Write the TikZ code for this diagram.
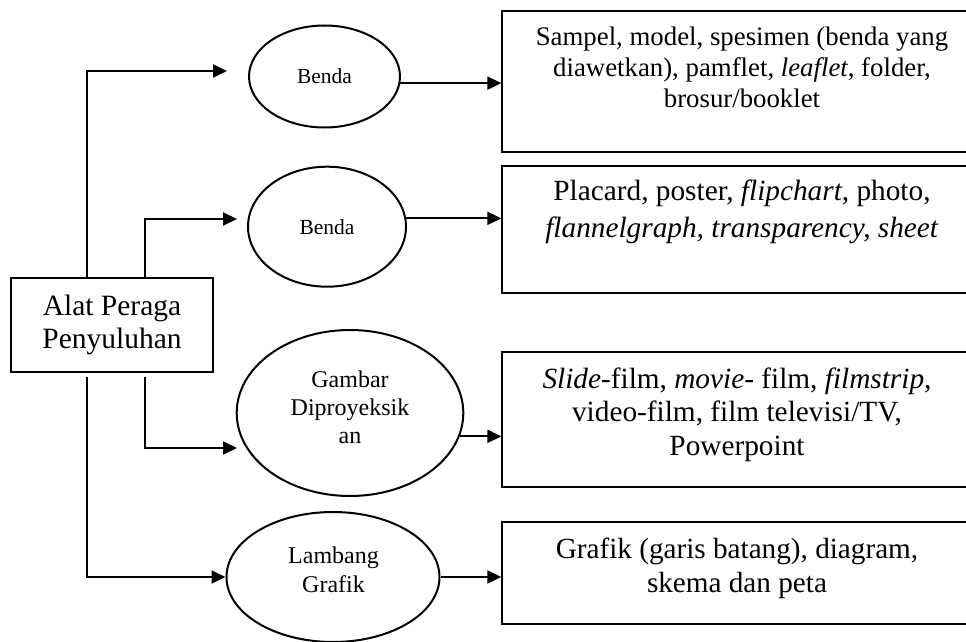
\documentclass[tikz,border=0pt]{standalone}
\usepackage{fontspec}
\setmainfont{Liberation Serif}
\usetikzlibrary{shapes.geometric,arrows.meta}
\begin{document}
\begin{tikzpicture}[x=1pt,y=-1pt,
  ln/.style={line width=2pt},
  arr/.style={ln,-{Triangle[length=14pt,width=13pt]}},
  ell/.style={draw,ln,ellipse,inner sep=0pt},
  rbox/.style={draw,ln,rectangle,inner sep=0pt},
  txt/.style={align=center,inner sep=0pt}]
\path[use as bounding box] (0,0) rectangle (966,642);
\clip (0,0) rectangle (966,642);

% main box
\node[rbox,minimum width=202pt,minimum height=94pt,align=center,
      font=\fontsize{29.5}{33}\selectfont] (main) at (112,325) {Alat Peraga\\Penyuluhan};

% ellipses
\node[ell,minimum width=151pt,minimum height=102pt,font=\fontsize{21.5}{25}\selectfont] (e1) at (324.5,76.5) {Benda};
\node[ell,minimum width=158pt,minimum height=120pt,font=\fontsize{21.5}{25}\selectfont] (e2) at (327,226.7) {Benda};
\node[ell,minimum width=226.6pt,minimum height=166pt] (e3) at (350,413) {};
\node[txt,font=\fontsize{24}{28}\selectfont] (l3) at (350,407) {Gambar\\Diproyeksik\\an};
\node[ell,minimum width=213pt,minimum height=130pt] (e4) at (333,577) {};
\node[txt,font=\fontsize{24}{29}\selectfont] (l4) at (333.5,569.5) {Lambang\\Grafik};

% right boxes
\node[rbox,minimum width=477.7pt,minimum height=141.3pt] (b1) at (741.2,81.65) {};
\node[rbox,minimum width=477.7pt,minimum height=127.6pt] (b2) at (741.2,229.5) {};
\node[rbox,minimum width=469.7pt,minimum height=135pt] (b3) at (737.2,419.8) {};
\node[rbox,minimum width=469.7pt,minimum height=102.6pt] (b4) at (737.2,573) {};

\node[txt,font=\fontsize{26.8}{30.6}\selectfont] (t1) at (742,67.4)
  {Sampel, model, spesimen (benda yang\\diawetkan), pamflet, \textit{leaflet}, folder,\\brosur/booklet};
\node[txt,font=\fontsize{29.3}{37}\selectfont] (t2) at (742,211.7)
  {Placard, poster, \textit{flipchart}, photo,\\\textit{flannelgraph, transparency, sheet}};
\node[txt,font=\fontsize{29.3}{33.5}\selectfont] (t3) at (737,414.7)
  {\textit{Slide}-film, \textit{movie}- film, \textit{filmstrip},\\video-film, film televisi/TV,\\Powerpoint};
\node[txt,font=\fontsize{29.2}{34}\selectfont] (t4) at (737,568.2)
  {Grafik (garis batang), diagram,\\skema dan peta};

% connectors from main box
\coordinate (p1) at (87,0);
\coordinate (p2) at (145,0);
\coordinate (a1) at (227,71);
\coordinate (a2) at (237,219);
\coordinate (a3) at (237,448);
\coordinate (s1) at ([yshift=-4pt]main.south);
\draw[arr] (main.north -| p1) |- (a1);
\draw[arr] (main.north -| p2) |- (a2);
\draw[arr] (s1 -| p2) |- (a3);
\draw[arr] (s1 -| p1) |- (e4.west);

% connectors from ellipses to boxes
\draw[arr] (e1.-5) -- (e1.-5 -| b1.west);
\draw[arr] (e2.6) -- (e2.6 -| b2.west);
\draw[arr] (e3.-12) -- (e3.-12 -| b3.west);
\draw[arr] (e4.east) -- (b4.west |- e4.east);
\end{tikzpicture}
\end{document}
